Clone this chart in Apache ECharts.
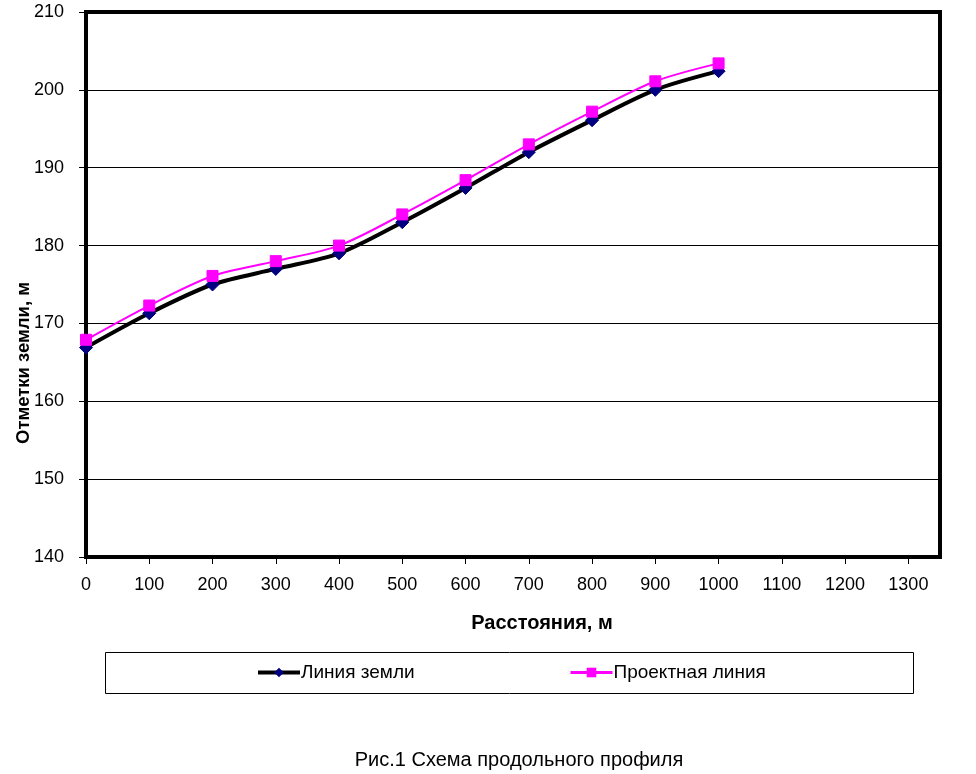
<!DOCTYPE html>
<html>
<head>
<meta charset="utf-8">
<script src="https://cdn.jsdelivr.net/npm/echarts@6/dist/echarts.min.js"></script>
<style>
  html, body { margin: 0; padding: 0; background: #ffffff; }
  #chart { width: 976px; height: 774px; }
</style>
</head>
<body>
<div id="chart"></div>
<script>
// ---- data ----
const distances = [0, 100, 200, 300, 400, 500, 600, 700, 800, 900, 1000];
const groundLine = [166.9, 171.3, 175.0, 177.0, 179.0, 183.0, 187.4, 192.0, 196.1, 200.0, 202.4];
const designLine = [167.9, 172.3, 176.1, 178.0, 180.0, 184.0, 188.4, 193.0, 197.2, 201.1, 203.4];
const xTicks = [0, 100, 200, 300, 400, 500, 600, 700, 800, 900, 1000, 1100, 1200, 1300];
const yTicks = [140, 150, 160, 170, 180, 190, 200, 210];
const groundName = 'Линия земли';
const designName = 'Проектная линия';
const xTitle = 'Расстояния, м';
const yTitle = 'Отметки земли, м';
const caption = 'Рис.1 Схема продольного профиля';

const FONT = '"Liberation Sans", Arial, sans-serif';

const chart = echarts.init(document.getElementById('chart'), null, { renderer: 'canvas' });

const pairs = (xs, ys) => xs.map((x, i) => [x, ys[i]]);

chart.setOption({
  backgroundColor: '#ffffff',
  animation: false,
  grid: {
    left: 86, top: 12, right: 36, bottom: 217,
    show: true, borderColor: '#000', borderWidth: 4, backgroundColor: '#fff'
  },
  xAxis: {
    type: 'value',
    min: 0, max: 1350, interval: 100,
    axisLine: { show: true, onZero: false, lineStyle: { color: '#000', width: 4 } },
    axisTick: { show: true, inside: false, length: 7, customValues: xTicks, lineStyle: { color: '#000', width: 1 } },
    axisLabel: { customValues: xTicks, formatter: v => String(v), margin: 19, color: '#000', fontSize: 18, fontFamily: FONT },
    splitLine: { show: false }
  },
  yAxis: {
    type: 'value',
    min: 140, max: 210, interval: 10,
    axisLine: { show: true, onZero: false, lineStyle: { color: '#000', width: 4 } },
    axisTick: { show: true, inside: false, length: 7, customValues: yTicks, lineStyle: { color: '#000', width: 1 } },
    axisLabel: { customValues: yTicks, formatter: v => String(v), margin: 22, color: '#000', fontSize: 18, fontFamily: FONT },
    splitLine: { show: true, lineStyle: { color: '#000', width: 1 } }
  },
  legend: [
    {
      data: [{ name: groundName, lineStyle: { width: 4, color: '#000' } }],
      left: 256, top: 663, padding: 0, itemWidth: 42, itemHeight: 12, itemGap: 0,
      textStyle: { color: '#000', fontSize: 19, fontFamily: FONT, padding: [0, 0, 0, -4] }
    },
    {
      data: [{ name: designName, lineStyle: { width: 3, color: '#ff00ff' } }],
      left: 569, top: 663, padding: 0, itemWidth: 42, itemHeight: 12, itemGap: 0,
      textStyle: { color: '#000', fontSize: 19, fontFamily: FONT, padding: [0, 0, 0, -4] }
    }
  ],
  graphic: [
    {
      type: 'rect', left: 105, top: 652, z: -1,
      shape: { width: 808, height: 41 },
      style: { fill: '#fff', stroke: '#000', lineWidth: 1 }
    },
    {
      type: 'text', x: 24, y: 363, rotation: Math.PI / 2,
      style: { text: yTitle, font: 'bold 18.5px ' + FONT, fill: '#000', textAlign: 'center', textVerticalAlign: 'middle' }
    },
    {
      type: 'text', x: 542, y: 623,
      style: { text: xTitle, font: 'bold 20px ' + FONT, fill: '#000', textAlign: 'center', textVerticalAlign: 'middle' }
    },
    {
      type: 'text', x: 519, y: 760,
      style: { text: caption, font: '20px ' + FONT, fill: '#000', textAlign: 'center', textVerticalAlign: 'middle' }
    }
  ],
  series: [
    {
      name: groundName, type: 'line', smooth: 0.3,
      data: pairs(distances, groundLine),
      symbol: 'diamond', symbolSize: [13, 13],
      itemStyle: { color: '#000080', borderColor: '#000080' },
      lineStyle: { color: '#000', width: 4 },
      z: 3
    },
    {
      name: designName, type: 'line', smooth: 0.3,
      data: pairs(distances, designLine),
      symbol: 'rect', symbolSize: [11, 11],
      itemStyle: { color: '#ff00ff', borderColor: '#ff00ff' },
      lineStyle: { color: '#ff00ff', width: 2 },
      z: 4
    }
  ]
});
</script>
</body>
</html>
